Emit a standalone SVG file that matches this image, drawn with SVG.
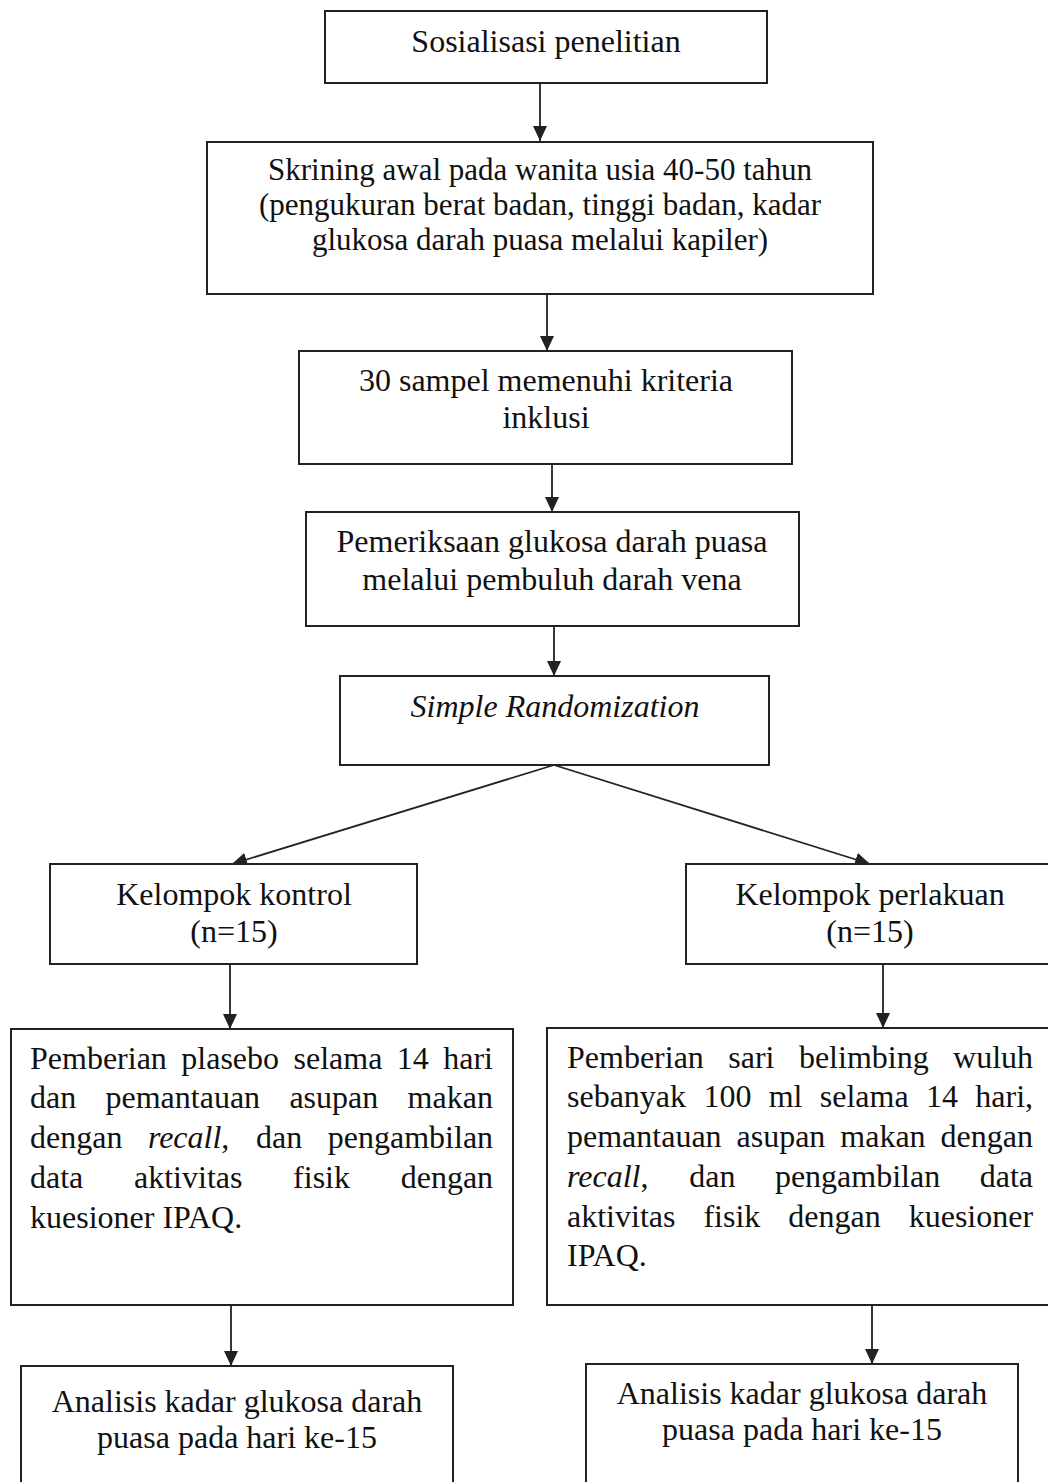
<svg xmlns="http://www.w3.org/2000/svg" width="1048" height="1482" viewBox="0 0 1048 1482">
<style>
.box{fill:#fff;stroke:#222;stroke-width:2}
.t{font-family:"Liberation Serif","Times New Roman",serif;font-size:32px;fill:#111}
.s{font-size:31px}
.c{text-anchor:middle}
.i{font-style:italic}
.con{stroke:#222;stroke-width:1.8;fill:none;marker-end:url(#ah)}
</style>
<defs>
<marker id="ah" markerUnits="userSpaceOnUse" markerWidth="16" markerHeight="14" refX="15" refY="7" orient="auto">
<path d="M0,0 L15,7 L0,14 z" fill="#222"/>
</marker>
</defs>
<rect width="1048" height="1482" fill="#fff"/>
<g id="connectors">
<line class="con" x1="540" y1="83" x2="540" y2="141"/>
<line class="con" x1="547" y1="294" x2="547" y2="351"/>
<line class="con" x1="552" y1="464" x2="552" y2="512"/>
<line class="con" x1="554" y1="626" x2="554" y2="676"/>
<line class="con" x1="554" y1="765" x2="232" y2="864"/>
<line class="con" x1="554" y1="765" x2="870" y2="864"/>
<line class="con" x1="230" y1="964" x2="230" y2="1029"/>
<line class="con" x1="883" y1="964" x2="883" y2="1028"/>
<line class="con" x1="231" y1="1305" x2="231" y2="1366"/>
<line class="con" x1="872" y1="1305" x2="872" y2="1364"/>
</g>
<g id="n1">
<rect class="box" x="325" y="11" width="442" height="72"/>
<text class="t c" x="546" y="52">Sosialisasi penelitian</text>
</g>
<g id="n2">
<rect class="box" x="207" y="142" width="666" height="152"/>
<text class="t s c" x="540" y="180">Skrining awal pada wanita usia 40-50 tahun</text>
<text class="t s c" x="540" y="215">(pengukuran berat badan, tinggi badan, kadar</text>
<text class="t s c" x="540" y="250">glukosa darah puasa melalui kapiler)</text>
</g>
<g id="n3">
<rect class="box" x="299" y="351" width="493" height="113"/>
<text class="t c" x="546" y="391">30 sampel memenuhi kriteria</text>
<text class="t c" x="546" y="428">inklusi</text>
</g>
<g id="n4">
<rect class="box" x="306" y="512" width="493" height="114"/>
<text class="t c" x="552" y="552">Pemeriksaan glukosa darah puasa</text>
<text class="t c" x="552" y="590">melalui pembuluh darah vena</text>
</g>
<g id="n5">
<rect class="box" x="340" y="676" width="429" height="89"/>
<text class="t c i" x="555" y="717">Simple Randomization</text>
</g>
<g id="n6">
<rect class="box" x="50" y="864" width="367" height="100"/>
<text class="t c" x="234" y="905">Kelompok kontrol</text>
<text class="t c" x="234" y="942">(n=15)</text>
</g>
<g id="n7">
<rect class="box" x="686" y="864" width="380" height="100"/>
<text class="t c" x="870" y="905">Kelompok perlakuan</text>
<text class="t c" x="870" y="942">(n=15)</text>
</g>
<g id="n8">
<rect class="box" x="11" y="1029" width="502" height="276"/>
<text class="t" y="1069"><tspan x="30">Pemberian</tspan><tspan x="181.3">plasebo</tspan><tspan x="293.5">selama</tspan><tspan x="396.8">14</tspan><tspan x="443.2">hari</tspan></text>
<text class="t" y="1108"><tspan x="30">dan</tspan><tspan x="105.5">pemantauan</tspan><tspan x="289.4">asupan</tspan><tspan x="407.6">makan</tspan></text>
<text class="t" y="1148"><tspan x="30">dengan</tspan><tspan x="147.9" class="i">recall</tspan><tspan>,</tspan><tspan x="256.1">dan</tspan><tspan x="327.8">pengambilan</tspan></text>
<text class="t" y="1188"><tspan x="30">data</tspan><tspan x="134">aktivitas</tspan><tspan x="293.1">fisik</tspan><tspan x="400.7">dengan</tspan></text>
<text class="t" x="30" y="1228">kuesioner IPAQ.</text>
</g>
<g id="n9">
<rect class="box" x="547" y="1028" width="520" height="277"/>
<text class="t" y="1068"><tspan x="567">Pemberian</tspan><tspan x="728.3">sari</tspan><tspan x="798.9">belimbing</tspan><tspan x="953.1">wuluh</tspan></text>
<text class="t" y="1107"><tspan x="567">sebanyak</tspan><tspan x="703.4">100</tspan><tspan x="768.7">ml</tspan><tspan x="819.8">selama</tspan><tspan x="926">14</tspan><tspan x="975.3">hari,</tspan></text>
<text class="t" y="1147"><tspan x="567">pemantauan</tspan><tspan x="736.5">asupan</tspan><tspan x="840.3">makan</tspan><tspan x="940.5">dengan</tspan></text>
<text class="t" y="1187"><tspan x="567" class="i">recall</tspan><tspan>,</tspan><tspan x="689.2">dan</tspan><tspan x="774.9">pengambilan</tspan><tspan x="979.7">data</tspan></text>
<text class="t" y="1227"><tspan x="567">aktivitas</tspan><tspan x="703.4">fisik</tspan><tspan x="788.3">dengan</tspan><tspan x="908.7">kuesioner</tspan></text>
<text class="t" x="567" y="1266">IPAQ.</text>
</g>
<g id="n10">
<rect class="box" x="21" y="1366" width="432" height="130"/>
<text class="t c" x="237" y="1412">Analisis kadar glukosa darah</text>
<text class="t c" x="237" y="1448">puasa pada hari ke-15</text>
</g>
<g id="n11">
<rect class="box" x="586" y="1364" width="432" height="132"/>
<text class="t c" x="802" y="1404">Analisis kadar glukosa darah</text>
<text class="t c" x="802" y="1440">puasa pada hari ke-15</text>
</g>
</svg>
